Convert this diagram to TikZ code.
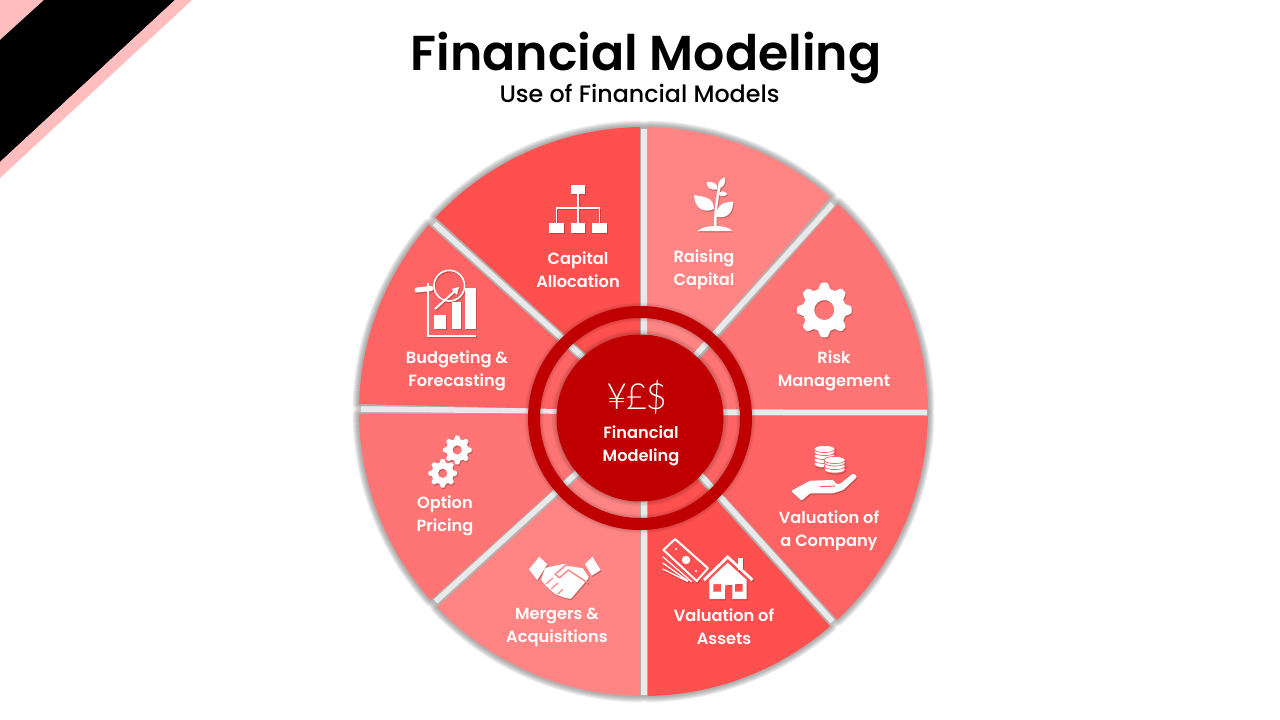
\documentclass[tikz,border=0pt]{standalone}
\usepackage{fontspec}
\setmainfont{Poppins Medium}
\newfontfamily\titlef{Poppins SemiBold}
\newfontfamily\thinf[LetterSpace=-3]{Lato Light}
\usetikzlibrary{calc}
\definecolor{dred}{HTML}{C00000}
\definecolor{wa}{HTML}{FF5050}
\definecolor{wb}{HTML}{FF6464}
\definecolor{wc}{HTML}{FF7474}
\definecolor{wd}{HTML}{FF8585}
\definecolor{gapc}{HTML}{E9E9E9}
\definecolor{pinkc}{HTML}{FFBDBD}
\newcommand\wedgepath[3]{plot[domain=#1:#2,samples=40] ({643.5+284.5*cos(\x)},{411.5+284.5*sin(\x)}) -- (#3) -- cycle}
\newcommand\icon[2]{%
  \begin{scope}[shift={(0.9,1.3)}]\colorlet{iconc}{#1!78!black}\colorlet{iconb}{#1!78!black}#2\end{scope}%
  \begin{scope}\colorlet{iconc}{white}\colorlet{iconb}{#1}#2\end{scope}}
\newcommand\gearicon[6]{\fill[iconc,even odd rule] plot[domain=0:360,samples=#6*16+1] ({#1+(#4+(#3-#4)*gtooth(\x*#6/360))*cos(\x)},{#2+(#4+(#3-#4)*gtooth(\x*#6/360))*sin(\x)}) -- cycle (#1,#2) circle[radius=#5];}
\tikzset{
  lab/.style={text=white,align=center,font=\titlef\fontsize{16.2}{23}\selectfont,inner sep=0pt},
  softa/.style={draw=black!60,draw opacity=.11,line join=round}
}
\begin{document}
\begin{tikzpicture}[x=1pt,y=-1pt,declare function={gtooth(\t)=min(1,max(0,(abs(mod(\t,1)-0.5)*2-0.3)*2.5));}]
\useasboundingbox (0,0) rectangle (1280,720);
\fill[white] (0,0) rectangle (1280,720);
% corner
\fill[pinkc] (0,0) -- (44,0) -- (0,40) -- cycle;
\fill[black] (44,0) -- (175,0) -- (0,162) -- (0,40) -- cycle;
\fill[pinkc] (175,0) -- (192,0) -- (0,178) -- (0,162) -- cycle;
% title
\node[inner sep=0pt,font=\titlef\fontsize{49}{50}\selectfont] (title) at (646,58) {Financial Modeling};
\node[inner sep=0pt,font=\fontsize{23.8}{25}\selectfont] (subtitle) at (639.5,93.5) {Use of Financial Models};
% wedge shadows
\foreach \a/\b/\v in {269.3/223/{640,403},221/181.5/{636,411},179.5/138.4/{636.6,414},136.6/90.7/{640,422},89.1/49/{648,424},47.1/0.9/{651.5,416},-0.5/-46.9/{655,409},-48.9/-89.1/{648,404.5}}{
  \foreach \w in {13,11,9,7,5,3}{
    \draw[softa,line width=\w pt] \wedgepath{\a}{\b}{\v};
  }
}
% gaps
\foreach \p in {{644,129},{832.5,204},{927,412.5},{832.5,621.5},{644,695},{435.5,601.5},{361,409},{434.5,223.5}}{
  \draw[gapc,line width=5.5pt] (644,412) -- (\p);
}
% wedges
\foreach \a/\b/\v/\c in {269.3/223/{640,403}/wa,221/181.5/{636,411}/wb,179.5/138.4/{636.6,414}/wc,136.6/90.7/{640,422}/wd,89.1/49/{648,424}/wa,47.1/0.9/{651.5,416}/wb,-0.5/-46.9/{655,409}/wc,-48.9/-89.1/{648,404.5}/wd}{
  \fill[\c] \wedgepath{\a}{\b}{\v};
}
% hub shadows and hub
\foreach \w in {19,17,15,13}{
  \draw[black,draw opacity=.04,line width=\w pt] (640,418) circle[radius=106];
}
\draw[dred,line width=12pt] (640,418) circle[radius=106];
\foreach \r in {88,86.5,85}{
  \fill[black,fill opacity=.06] (640,418) circle[radius=\r];
}
\fill[dred] (640,418) circle[radius=83.5];
% org chart
\icon{wa}{
  \fill[iconc] (571,185) rectangle (585,194);
  \fill[iconc] (549.3,223) rectangle (564,233);
  \fill[iconc] (571,223) rectangle (585,233);
  \fill[iconc] (592.3,223) rectangle (606.7,233);
  \draw[iconc,line width=1.4pt] (578,194) -- (578,223) (556.6,223) -- (556.6,208) -- (599.5,208) -- (599.5,223);
}
% budgeting
\icon{wb}{
  \draw[iconc,line width=2pt] (427.5,283) -- (427.5,336) -- (476,336);
  \fill[iconc] (434.3,315) rectangle (446,329);
  \fill[iconc] (451.7,301.7) rectangle (461,329);
  \fill[iconc] (465,287.7) rectangle (476,329);
  \draw[iconc,line width=1.6pt] (449.3,285.7) circle[radius=15.3];
  \draw[iconc,line width=5pt,line cap=round] (417,290) -- (431,288.5);
  \draw[iconc,line width=2pt] (435,309) -- (455,291);
  \fill[iconc] (459,287) -- (451.5,289) -- (457,295) -- cycle;
}
% plant
\icon{wd}{
  \fill[iconc] (694,195) .. controls (702,197) and (714,196) .. (714,209) .. controls (705,213) and (695,210) .. (694,195) -- cycle;
  \fill[iconc] (733.3,201.7) .. controls (724,202) and (716,205) .. (716,216.7) .. controls (726,219) and (733,214) .. (733.3,201.7) -- cycle;
  \fill[iconc] (706.7,182.3) .. controls (712,181) and (718,183) .. (717.7,189.3) .. controls (711,191) and (707,188) .. (706.7,182.3) -- cycle;
  \fill[iconc] (725,177.3) .. controls (719,179) and (717,184) .. (719.3,188.3) .. controls (724,187) and (726,183) .. (725,177.3) -- cycle;
  \fill[iconc] (727.3,194) .. controls (724,190) and (720,191) .. (718.5,194) .. controls (721,197) and (725,197) .. (727.3,194) -- cycle;
  \draw[iconc,line width=2.4pt] (715.5,227) .. controls (714.5,214) and (717,200) .. (720,183);
  \fill[iconc] (697.3,231) .. controls (703,227) and (709,226) .. (715,226) .. controls (722,226) and (728,227) .. (732.7,231) -- cycle;
}
% gear
\icon{wc}{\gearicon{824.3}{310}{27.3}{21.5}{10}{8}}
% option gears
\icon{wc}{\gearicon{457.3}{450}{14.3}{11}{4.7}{8}\gearicon{442.7}{473.3}{14.3}{11}{4.7}{8}}
% handshake
\icon{wd}{
  \fill[iconc] (529,569.3) -- (539.3,556.7) -- (547.3,564.3) -- (537.3,580) -- cycle;
  \fill[iconc] (585,564) -- (592.3,556.7) -- (600.7,570) -- (591.7,575.7) -- cycle;
  \fill[iconc,rounded corners=1pt] (545,568) -- (563.3,564) -- (582,567) -- (589,577.7) -- (570.7,599) -- (563.3,597.3) -- (555,594) -- (546.7,586.7) -- (541,580) -- cycle;
  \draw[iconb,line width=1.4pt,line join=round] (582,567.3) -- (566,565) -- (555,574.3) -- (559.5,577.7) -- (568.3,570) -- (588,583);
  \draw[iconb,line width=1.2pt] (546,584) -- (553,578) (551,589) -- (558,583) (558,594) -- (563,589);
}
% coins and hand
\icon{wb}{
  \foreach \cy in {464,460,456,452,449}{
    \filldraw[fill=iconc,draw=iconb,line width=.7pt] (824.5,\cy) ellipse[x radius=10.5,y radius=3.6];
  }
  \foreach \cy in {469.5,466,462.5,460}{
    \filldraw[fill=iconc,draw=iconb,line width=.7pt] (834.7,\cy) ellipse[x radius=10.5,y radius=3.6];
  }
  \fill[iconc,rounded corners=1.2pt] (791,491) -- (810,480.7) -- (833.3,480) -- (836,484) -- (840,484) -- (853.3,473.3) -- (857.3,476.7) -- (843.3,490) -- (833.3,493.3) -- (810,493.3) -- (801.7,500.7) -- cycle;
  \draw[iconb,line width=1.1pt] (820,486.7) -- (835,486);
}
% money and house
\icon{wa}{
  \draw[iconc,line width=1.3pt] (662.7,556.7) -- (692,582) (662.7,563) -- (688,581) (662.7,569) -- (688,581.5);
  \filldraw[fill=iconb,draw=iconc,line width=2pt,line join=round] (663.5,550) -- (675,539) -- (708,568.3) -- (696.7,581) -- cycle;
  \fill[iconc] (686,560) circle[radius=4.2];
  \fill[iconc] (676,549) circle[radius=1.2] (696,571) circle[radius=1.2];
  \fill[wa] (701,578) -- (727.7,552) -- (727.7,590) -- (701,590) -- cycle;
  \draw[iconc,line width=2.8pt] (704,580) -- (727.7,557) -- (752.5,580);
  \fill[iconc] (737.7,558) rectangle (742.7,570);
  \fill[iconc,even odd rule] (709.3,580) -- (727.7,562.7) -- (746.7,580) -- (746.7,599) -- (732.3,599) -- (732.3,585) -- (725,585) -- (725,599) -- (709.3,599) -- cycle
    (713.3,584) rectangle (721,591.7) (735,584) rectangle (742.7,591.7);
}
% labels
\node[lab] (capital) at (578,270) {Capital\\Allocation};
\node[lab] (raising) at (704,269.5) {Raising\\Capital};
\node[lab] (risk) at (834,370.5) {Risk\\Management};
\node[lab] (company) at (829,530.5) {Valuation of\\a Company};
\node[lab] (assets) at (724,627) {Valuation of\\Assets};
\node[lab] (mergers) at (557,627) {Mergers \&\\Acquisitions};
\node[lab] (option) at (445,516) {Option\\Pricing};
\node[lab] (budget) at (457,371) {Budgeting \&\\Forecasting};
\node[lab] (centre) at (641,445.5) {Financial\\Modeling};
\node[text=white,inner sep=0pt,font=\thinf\fontsize{36}{38}\selectfont] (money) at (636.5,397) {¥£\$};
\end{tikzpicture}
\end{document}
